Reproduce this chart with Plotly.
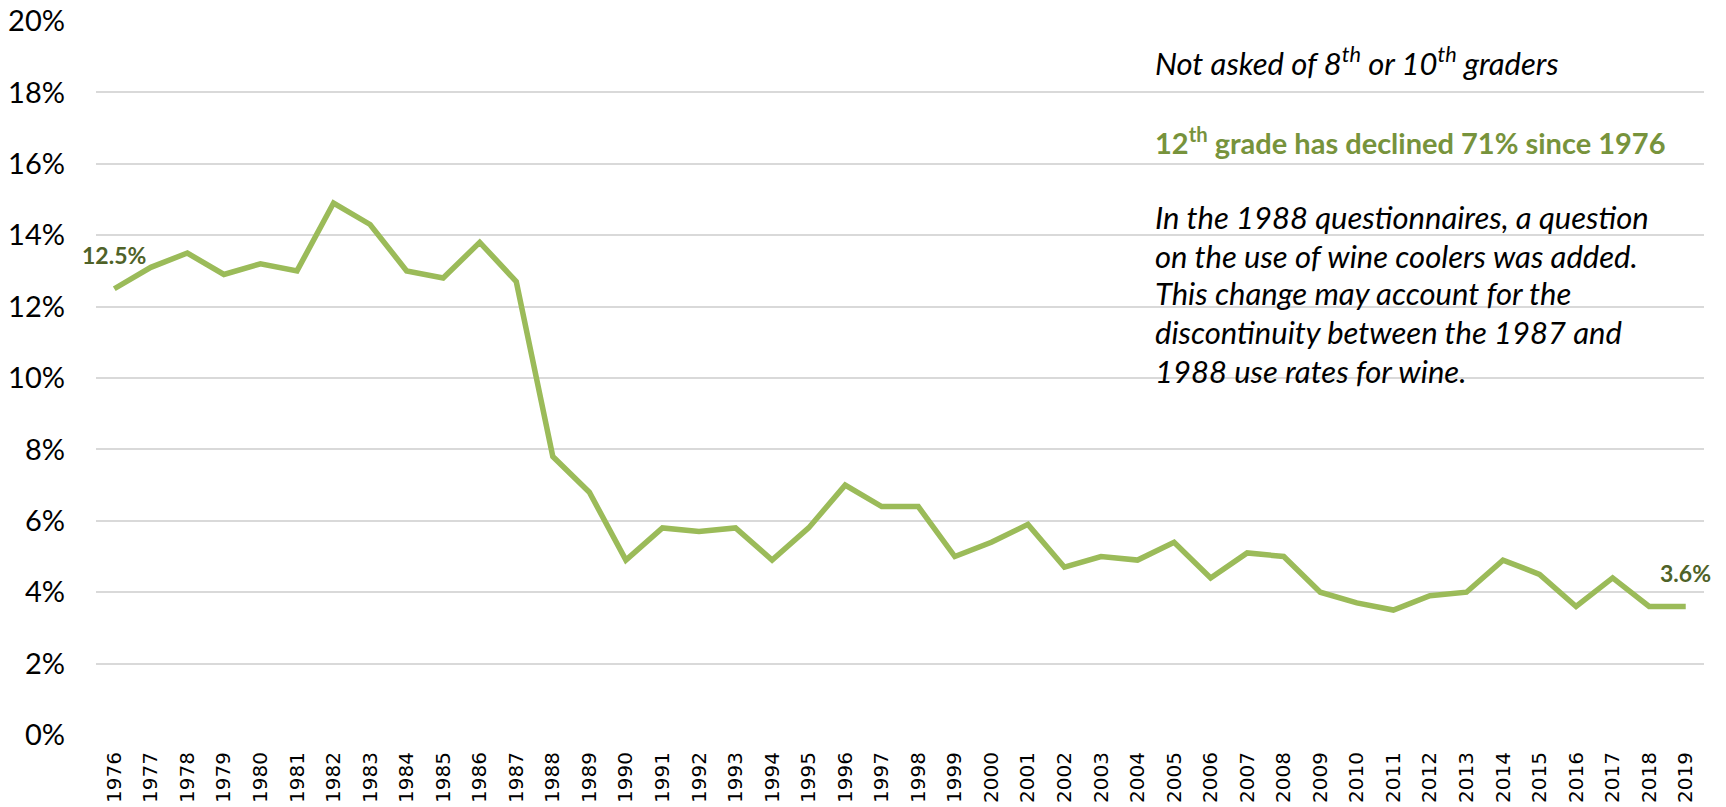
import plotly.graph_objects as go

years = [str(y) for y in range(1976, 2020)]
wine_12th = [12.5, 13.1, 13.5, 12.9, 13.2, 13.0, 14.9, 14.3, 13.0, 12.8, 13.8, 12.7,
             7.8, 6.8, 4.9, 5.8, 5.7, 5.8, 4.9, 5.8, 7.0, 6.4, 6.4, 5.0, 5.4, 5.9,
             4.7, 5.0, 4.9, 5.4, 4.4, 5.1, 5.0, 4.0, 3.7, 3.5, 3.9, 4.0, 4.9, 4.5,
             3.6, 4.4, 3.6, 3.6]
y_ticks = [0, 2, 4, 6, 8, 10, 12, 14, 16, 18, 20]

note_top = "Not asked of 8<sup>th</sup> or 10<sup>th</sup> graders"
headline = "12<sup>th</sup> grade has declined 71% since 1976"
note_lines = [
    "In the 1988 questionnaires, a question",
    "on the use of wine coolers was added.",
    "This change may account for the",
    "discontinuity between the 1987 and",
    "1988 use rates for wine.",
]

W, H = 1726, 807
OFF = 8  # page body margin
L, R, T, B = 88, 30, 13, 80
pw, ph = W - L - R, H - T - B

def px(x):
    return (x - OFF - L) / pw

def py(y):
    return (H - B - (y - OFF)) / ph

LINE = "#9BBB59"
DARK = "#4F6228"
GREEN = "#77933C"

fig = go.Figure()
fig.add_trace(go.Scatter(
    x=years, y=wine_12th, mode="lines",
    line=dict(color=LINE, width=5.5, shape="linear"),
    hoverinfo="skip", showlegend=False,
))

first_i, last_i = 0, len(years) - 1
annotations = []
annotations.append(dict(x=first_i, y=wine_12th[first_i], xref="x", yref="y",
                        text=f"{wine_12th[first_i]}%", showarrow=False,
                        xanchor="center", yanchor="middle", yshift=34,
                        font=dict(family="Lato", size=23, color=DARK, weight="bold")))
annotations.append(dict(x=last_i, y=wine_12th[last_i], xref="x", yref="y",
                        text=f"{wine_12th[last_i]}%", showarrow=False,
                        xanchor="center", yanchor="middle", yshift=33,
                        font=dict(family="Lato", size=23, color=DARK, weight="bold")))

annotations.append(dict(x=px(1153), y=py(61.5), xref="paper", yref="paper",
                        text=note_top, showarrow=False, xanchor="left", yanchor="middle",
                        font=dict(family="Lato", size=31, color="#000000", style="italic")))
annotations.append(dict(x=px(1153), y=py(141), xref="paper", yref="paper",
                        text=headline, showarrow=False, xanchor="left", yanchor="middle",
                        font=dict(family="Lato", size=29, color=GREEN, weight="bold")))
line_y = [217, 255.5, 293, 332, 370.5]
for txt, yy in zip(note_lines, line_y):
    annotations.append(dict(x=px(1153), y=py(yy), xref="paper", yref="paper",
                            text=txt, showarrow=False, xanchor="left", yanchor="middle",
                            font=dict(family="Lato", size=31, color="#000000", style="italic")))

fig.update_layout(
    width=W, height=H,
    margin=dict(l=L, r=R, t=T, b=B, pad=0, autoexpand=False),
    paper_bgcolor="white", plot_bgcolor="white",
    annotations=annotations,
    xaxis=dict(
        type="category", range=[-0.5, len(years) - 0.5], automargin=False,
        tickangle=-90, showgrid=False, zeroline=False, showline=False,
        ticks="", ticklabelstandoff=12,
        tickfont=dict(family="DejaVu Sans", size=20, color="#000000"),
        fixedrange=True,
    ),
    yaxis=dict(
        range=[0, 20], tickvals=y_ticks, ticktext=[f"{v}%" for v in y_ticks],
        automargin=False, ticklabeloverflow="allow",
        showgrid=True, gridcolor="#D9D9D9", gridwidth=1.6,
        zeroline=False, showline=False, ticks="", ticklabelstandoff=30,
        tickfont=dict(family="Lato", size=29, color="#000000"),
        fixedrange=True,
    ),
)

fig.write_html("out.html")
